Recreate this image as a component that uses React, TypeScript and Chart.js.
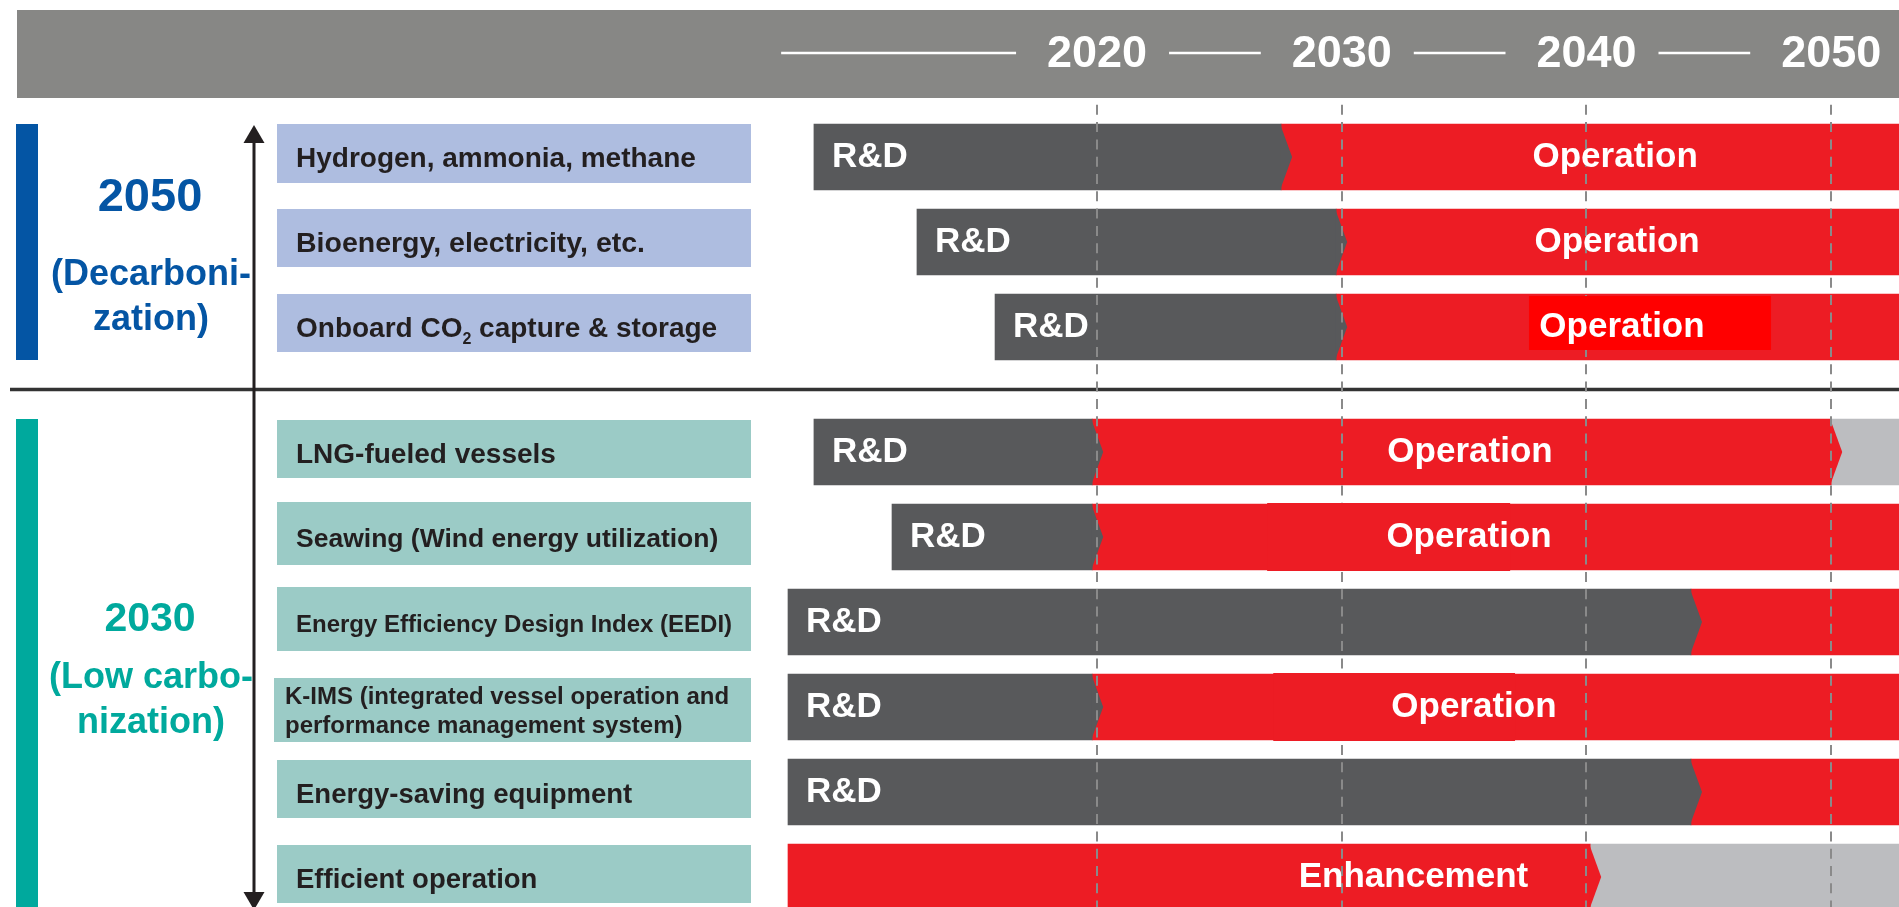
import { useEffect, useRef } from "react";
import { Chart, registerables } from "chart.js";

Chart.register(...registerables);

// ---------------- DATA ----------------
const rowLabels = [
  "Hydrogen, ammonia, methane",
  "Bioenergy, electricity, etc.",
  "Onboard CO₂ capture & storage",
  "LNG-fueled vessels",
  "Seawing (Wind energy utilization)",
  "Energy Efficiency Design Index (EEDI)",
  "K-IMS (integrated vessel operation and\nperformance management system)",
  "Energy-saving equipment",
  "Efficient operation",
];
const groupTitles = ["2050", "2030"];
const groupNotes = [
  ["(Decarboni-", "zation)"],
  ["(Low carbo-", "nization)"],
];
const groupSizes = [3, 6];
const yearTicks = [2020, 2030, 2040, 2050];
const HORIZON = 2055; // open-ended phases run past the right edge

const rdStart = [2008.43, 2012.64, 2015.83, 2008.43, 2011.62, 2007.37, 2007.37, 2007.37, null];
const rdEnd = [2027.52, 2029.77, 2029.77, 2019.8, 2019.8, 2044.27, 2019.8, 2044.27, null];
const mainStart = [2027.52, 2029.77, 2029.77, 2019.8, 2019.8, 2044.27, 2019.8, 2044.27, 2007.37];
const mainEnd = [HORIZON, HORIZON, HORIZON, 2050, HORIZON, HORIZON, HORIZON, HORIZON, 2040.15];
const laterStart = [null, null, null, 2050, null, null, null, null, 2040.15];
const mainLabels = ["Operation", "Operation", "Operation", "Operation", "Operation", null, "Operation", null, "Enhancement"];
const mainLabelAt = [2041.17, 2041.25, 2041.45, 2035.24, 2035.2, null, 2035.4, null, 2032.93];
const labelPanelFrom = [null, null, 2037.65, null, 2026.95, null, 2027.2, null, null];
const labelPanelTo = [null, null, 2047.54, null, 2036.88, null, 2037.08, null, null];

// ---------------- LAYOUT / STYLE ----------------
const W = 1899;
const H = 907;
const FONT = "'Liberation Sans', Arial, Helvetica, sans-serif";
const PLOT_LEFT = 730;
const HEADER_TOP = 10;
const HEADER_H = 88;
const X_MIN = 2005;
const X_MAX = 2052.77;
const ROW_PX = 85;
const FIRST_ROW_CENTER = 157;
const SECTION_GAP = 40 / 85;
const BAR_T = 66;
const CHEVRON = 11;
const Y_MIN = -(FIRST_ROW_CENTER - (HEADER_TOP + HEADER_H)) / ROW_PX;
const Y_MAX = Y_MIN + (H - HEADER_TOP - HEADER_H) / ROW_PX;
const HEADER_RULE_START = 2007.09;

const C_RD = "#58595B";
const C_RED = "#ED1C24";
const C_LATER = "#BCBDC0";
const C_HEADER = "#878785";
const C_GRID = "#8A8A8A";
const C_TEXT = "#231F20";
const groupColor = ["#0455A4", "#00A99D"];
const groupBoxColor = ["#AEBDE0", "#9BCBC6"];
const groupTitleSize = [47, 41];
const groupTextDy = [
  [-31, 43, 88],
  [-33.5, 23.5, 68.5],
];
const boxDy = [0, 0, 0, 1, -2, -2, 4, 1, 1];
const boxH = [59, 58, 58, 58, 63, 64, 64, 58, 58];
const labelSize = [28, 28.5, 28, 28, 26.5, 24, 24, 27.5, 27.5];
const panelStyle: Record<number, { color: string; top: number; bottom: number }> = {
  2: { color: "#FF0000", top: 2, bottom: 10 },
};
const defaultPanel = { color: C_RED, top: -1, bottom: -1 };

const rows = rowLabels.map((_, i) => i);
const groupOf = (i: number) => {
  let acc = 0;
  for (let g = 0; g < groupSizes.length; g++) {
    acc += groupSizes[g];
    if (i < acc) return g;
  }
  return groupSizes.length - 1;
};
const rowPos = (i: number) => i + groupOf(i) * SECTION_GAP;

function drawRich(ctx: CanvasRenderingContext2D, text: string, x: number, y: number, fs: number) {
  const parts = text.split("₂");
  let cx = x;
  parts.forEach((p, k) => {
    ctx.font = `bold ${fs}px ${FONT}`;
    ctx.fillText(p, cx, y);
    cx += ctx.measureText(p).width;
    if (k < parts.length - 1) {
      const sub = Math.round(fs * 0.57);
      ctx.font = `bold ${sub}px ${FONT}`;
      ctx.fillText("2", cx, y + 7);
      cx += ctx.measureText("2").width;
    }
  });
}

const decorPlugin = {
  id: "decor",
  beforeDraw(chart: any) {
    const { ctx } = chart;
    const xs = chart.scales.x;
    const ys = chart.scales.y;
    ctx.save();
    // header band
    ctx.fillStyle = C_HEADER;
    ctx.fillRect(17, HEADER_TOP, W - 17, HEADER_H);
    // header rules between year labels
    ctx.strokeStyle = "#FFFFFF";
    ctx.lineWidth = 2.5;
    yearTicks.forEach((yr, i) => {
      const x1 = i === 0 ? xs.getPixelForValue(HEADER_RULE_START) : xs.getPixelForValue(yearTicks[i - 1]) + 72;
      const x2 = xs.getPixelForValue(yr) - 81;
      ctx.beginPath();
      ctx.moveTo(x1, 53);
      ctx.lineTo(x2, 53);
      ctx.stroke();
    });

    // groups
    let start = 0;
    groupSizes.forEach((n, g) => {
      const first = ys.getPixelForValue(rowPos(start));
      const last = ys.getPixelForValue(rowPos(start + n - 1));
      ctx.fillStyle = groupColor[g];
      ctx.fillRect(16, first - BAR_T / 2, 22, last - first + BAR_T);
      const mid = (first + last) / 2;
      ctx.textAlign = "center";
      ctx.textBaseline = "alphabetic";
      ctx.font = `bold ${groupTitleSize[g]}px ${FONT}`;
      ctx.fillText(groupTitles[g], 150, mid + groupTextDy[g][0]);
      ctx.font = `bold 36px ${FONT}`;
      groupNotes[g].forEach((t, k) => ctx.fillText(t, 151, mid + groupTextDy[g][k + 1]));

      for (let r = start; r < start + n; r++) {
        const yc = ys.getPixelForValue(rowPos(r));
        const top = yc - BAR_T / 2 + boxDy[r];
        const h = boxH[r];
        const lines = rowLabels[r].split("\n");
        const multi = lines.length > 1;
        const left = multi ? 274 : 277;
        ctx.fillStyle = groupBoxColor[g];
        ctx.fillRect(left, top, 751 - left, h);
        ctx.fillStyle = C_TEXT;
        ctx.textAlign = "left";
        ctx.textBaseline = "alphabetic";
        const fs = labelSize[r];
        const m = top + h / 2;
        if (multi) {
          ctx.font = `bold ${fs}px ${FONT}`;
          ctx.fillText(lines[0], left + 11, m - 6);
          ctx.fillText(lines[1], left + 11, m + 23);
        } else {
          drawRich(ctx, lines[0], left + 19, m + 4 + 0.355 * fs, fs);
        }
      }
      start += n;
    });

    // separator between the two groups
    const ySep = (ys.getPixelForValue(rowPos(groupSizes[0] - 1)) + ys.getPixelForValue(rowPos(groupSizes[0]))) / 2;
    ctx.strokeStyle = "#333333";
    ctx.lineWidth = 3.5;
    ctx.beginPath();
    ctx.moveTo(10, ySep);
    ctx.lineTo(W, ySep);
    ctx.stroke();

    // double-headed vertical arrow
    const ax = 254;
    const tipTop = ys.getPixelForValue(rowPos(0)) - BAR_T / 2 + 1;
    const tipBot = H + 3;
    ctx.strokeStyle = C_TEXT;
    ctx.lineWidth = 3;
    ctx.beginPath();
    ctx.moveTo(ax, tipTop + 17);
    ctx.lineTo(ax, tipBot - 17);
    ctx.stroke();
    ctx.fillStyle = C_TEXT;
    ctx.beginPath();
    ctx.moveTo(ax, tipTop);
    ctx.lineTo(ax + 10.5, tipTop + 18);
    ctx.lineTo(ax - 10.5, tipTop + 18);
    ctx.closePath();
    ctx.fill();
    ctx.beginPath();
    ctx.moveTo(ax, tipBot);
    ctx.lineTo(ax + 10.5, tipBot - 18);
    ctx.lineTo(ax - 10.5, tipBot - 18);
    ctx.closePath();
    ctx.fill();
    ctx.restore();
  },
  afterDatasetsDraw(chart: any) {
    const { ctx } = chart;
    const xs = chart.scales.x;
    const ys = chart.scales.y;
    ctx.save();
    chart.data.datasets.forEach((ds: any) => {
      ds.data.forEach((pt: any) => {
        const end = pt.x[1];
        if (end >= HORIZON) return;
        const xe = xs.getPixelForValue(end);
        const yc = ys.getPixelForValue(pt.y);
        ctx.fillStyle = ds.backgroundColor;
        ctx.beginPath();
        ctx.moveTo(xe - 1, yc - BAR_T / 2);
        ctx.lineTo(xe + CHEVRON, yc);
        ctx.lineTo(xe - 1, yc + BAR_T / 2);
        ctx.closePath();
        ctx.fill();
      });
    });
    ctx.restore();
  },
  afterDraw(chart: any) {
    const { ctx } = chart;
    const xs = chart.scales.x;
    const ys = chart.scales.y;
    ctx.save();
    rows.forEach((r) => {
      const yc = ys.getPixelForValue(rowPos(r));
      if (labelPanelFrom[r] != null && labelPanelTo[r] != null) {
        const st = panelStyle[r] || defaultPanel;
        const x1 = xs.getPixelForValue(labelPanelFrom[r]);
        const x2 = xs.getPixelForValue(labelPanelTo[r]);
        ctx.fillStyle = st.color;
        ctx.fillRect(x1, yc - BAR_T / 2 + st.top, x2 - x1, BAR_T - st.top - st.bottom);
      }
      ctx.fillStyle = "#FFFFFF";
      ctx.textBaseline = "middle";
      ctx.font = `bold 35px ${FONT}`;
      if (rdStart[r] != null) {
        ctx.textAlign = "left";
        ctx.fillText("R&D", xs.getPixelForValue(rdStart[r]) + 18, yc + 0.5);
      }
      const lab = mainLabels[r];
      const at = mainLabelAt[r];
      if (lab && at != null) {
        ctx.textAlign = "center";
        ctx.fillText(lab, xs.getPixelForValue(at), yc);
      }
    });
    ctx.restore();
  },
};

const rdData = rows
  .filter((i) => rdStart[i] != null)
  .map((i) => ({ x: [rdStart[i], rdEnd[i]], y: rowPos(i) }));
const mainData = rows.map((i) => ({ x: [mainStart[i], mainEnd[i]], y: rowPos(i) }));
const laterData = rows
  .filter((i) => laterStart[i] != null)
  .map((i) => ({ x: [laterStart[i], HORIZON], y: rowPos(i) }));

export default function App() {
  const ref = useRef<HTMLCanvasElement>(null);
  useEffect(() => {
    if (!ref.current) return;
    const chart = new Chart(ref.current, {
      type: "bar",
      data: {
        datasets: [
          { label: "R&D", data: rdData as any, backgroundColor: C_RD, borderWidth: 0, barThickness: BAR_T, grouped: false },
          { label: "Operation", data: mainData as any, backgroundColor: C_RED, borderWidth: 0, barThickness: BAR_T, grouped: false },
          { label: "Later", data: laterData as any, backgroundColor: C_LATER, borderWidth: 0, barThickness: BAR_T, grouped: false },
        ],
      },
      options: {
        indexAxis: "y",
        responsive: false,
        animation: false,
        devicePixelRatio: 1,
        events: [],
        layout: { padding: { left: PLOT_LEFT, top: HEADER_TOP, right: 0, bottom: 0 } },
        plugins: { legend: { display: false }, tooltip: { enabled: false }, title: { display: false } },
        scales: {
          x: {
            type: "linear",
            position: "top",
            min: X_MIN,
            max: X_MAX,
            beginAtZero: false,
            offset: false,
            afterBuildTicks: (s: any) => {
              s.ticks = yearTicks.map((v) => ({ value: v }));
            },
            afterFit: (s: any) => {
              s.height = HEADER_H;
            },
            ticks: {
              color: "#FFFFFF",
              font: { family: FONT, size: 45, weight: "bold" },
              padding: 16,
              maxRotation: 0,
              autoSkip: false,
              callback: (v: any) => String(v),
            },
            grid: { color: C_GRID, lineWidth: 2, drawTicks: false, z: 1, offset: false },
            border: { display: false, dash: [10, 7.3], dashOffset: 10.5 },
          },
          y: {
            type: "linear",
            display: false,
            reverse: true,
            min: Y_MIN,
            max: Y_MAX,
            offset: false,
            grid: { offset: false },
          },
        },
      } as any,
      plugins: [decorPlugin],
    });
    return () => chart.destroy();
  }, []);
  return (
    <div style={{ position: "absolute", left: 0, top: 0, width: W, height: H, overflow: "hidden", background: "#FFFFFF" }}>
      <canvas ref={ref} width={W} height={H} style={{ display: "block", width: W, height: H }} />
    </div>
  );
}
